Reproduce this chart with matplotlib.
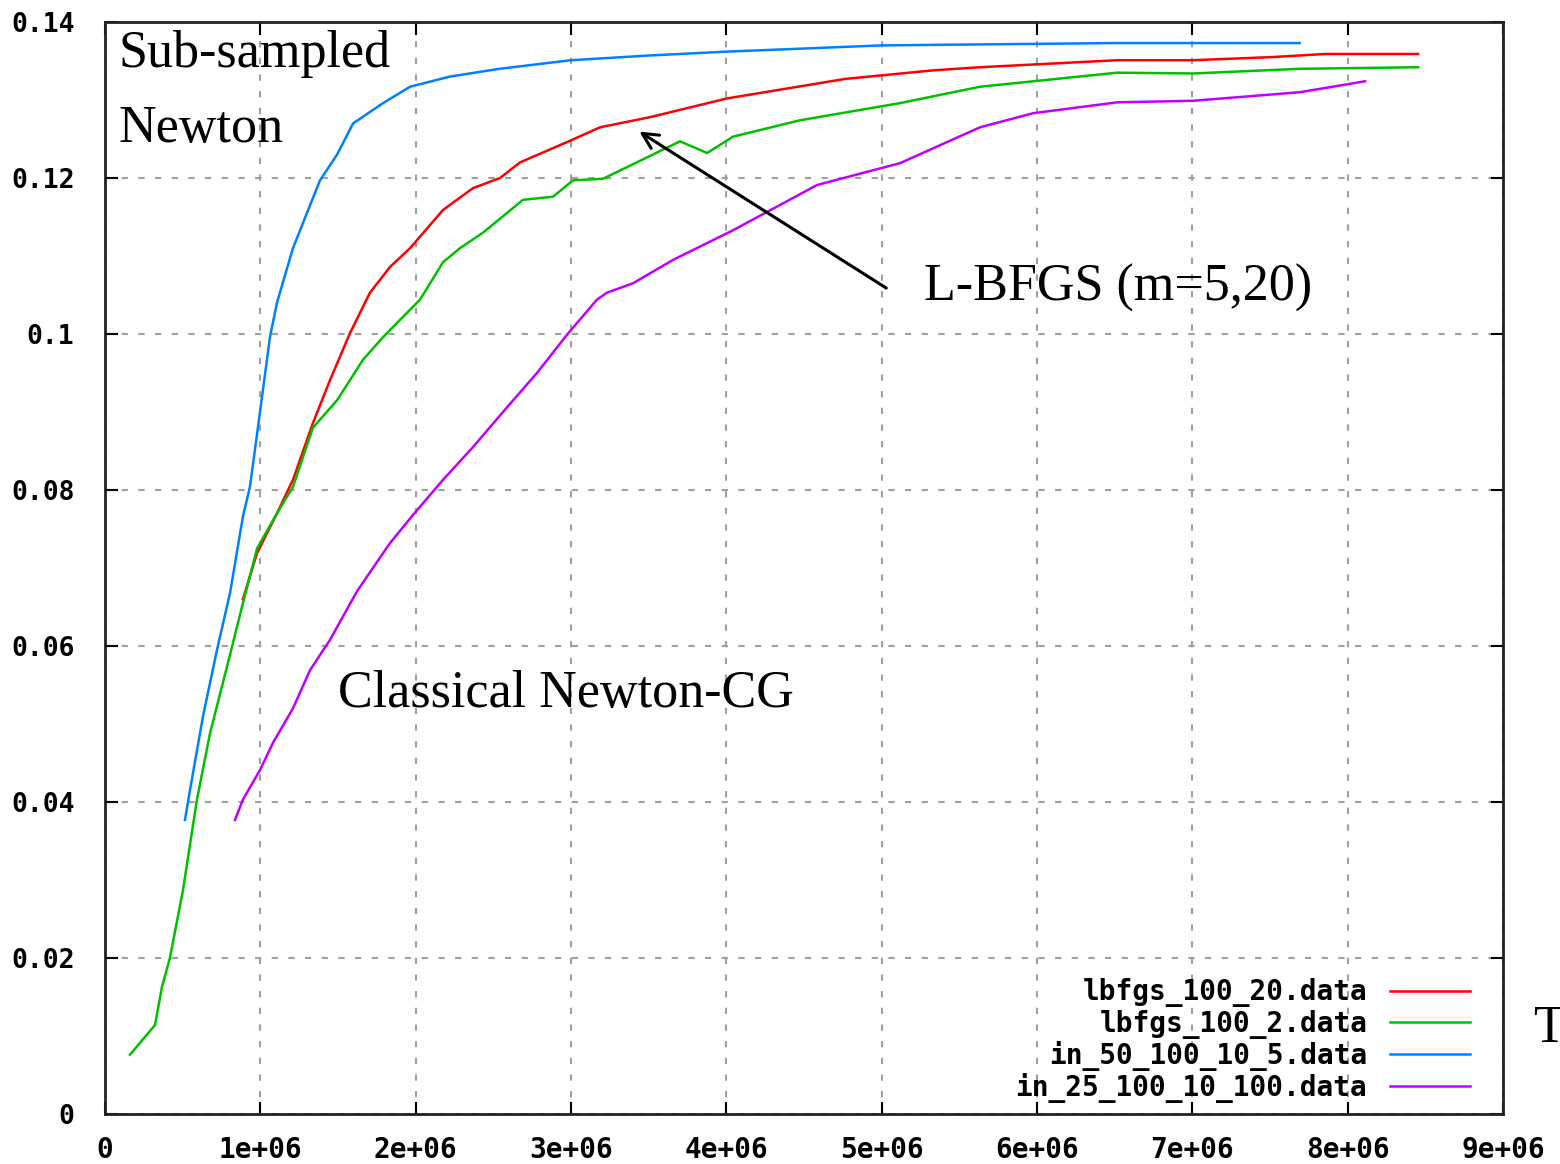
import matplotlib

matplotlib.use("Agg")
import matplotlib.pyplot as plt

# --- data (x: evaluations, y: objective) ---
lbfgs20_x = [0.888e6, 0.979e6, 1.107e6, 1.21e6, 1.339e6, 1.449e6, 1.577e6, 1.706e6,
             1.835e6, 1.964e6, 2.176e6, 2.369e6, 2.543e6, 2.672e6, 2.974e6, 3.187e6,
             3.509e6, 4.004e6, 4.764e6, 5.331e6, 5.633e6, 6.515e6, 7.005e6, 7.513e6,
             7.854e6, 8.453e6]
lbfgs20_y = [0.0660, 0.0719, 0.0770, 0.0813, 0.0886, 0.0941, 0.1001, 0.1053,
             0.1086, 0.1110, 0.1159, 0.1187, 0.1200, 0.1220, 0.1246, 0.1265,
             0.1278, 0.1302, 0.1327, 0.1338, 0.1342, 0.1351, 0.1351, 0.1355,
             0.1359, 0.1359]

lbfgs2_x = [0.161e6, 0.322e6, 0.367e6, 0.418e6, 0.502e6, 0.592e6, 0.676e6, 0.785e6,
            0.888e6, 0.979e6, 1.107e6, 1.21e6, 1.339e6, 1.494e6, 1.661e6, 1.79e6,
            1.899e6, 2.028e6, 2.176e6, 2.285e6, 2.434e6, 2.691e6, 2.884e6, 3.013e6,
            3.206e6, 3.702e6, 3.876e6, 4.043e6, 4.474e6, 5.118e6, 5.633e6, 6.515e6,
            7.005e6, 7.693e6, 8.453e6]
lbfgs2_y = [0.0076, 0.0114, 0.0163, 0.0200, 0.0287, 0.0403, 0.0488, 0.0573,
            0.0655, 0.0725, 0.0770, 0.0804, 0.0880, 0.0915, 0.0967, 0.0996,
            0.1018, 0.1044, 0.1092, 0.1110, 0.1130, 0.1172, 0.1176, 0.1197,
            0.1199, 0.1247, 0.1232, 0.1253, 0.1274, 0.1296, 0.1317, 0.1335,
            0.1334, 0.1340, 0.1342]

in50_x = [0.515e6, 0.547e6, 0.631e6, 0.721e6, 0.805e6, 0.888e6, 0.933e6, 0.998e6,
          1.062e6, 1.107e6, 1.21e6, 1.30e6, 1.384e6, 1.494e6, 1.597e6, 1.79e6,
          1.964e6, 2.22e6, 2.54e6, 3.0e6, 3.5e6, 4.0e6, 5.0e6, 6.5e6, 7.69e6]
in50_y = [0.0377, 0.0415, 0.0510, 0.0595, 0.0668, 0.0766, 0.0804, 0.0900,
          0.0996, 0.1040, 0.1110, 0.1155, 0.1197, 0.1230, 0.1270, 0.1296,
          0.1317, 0.1330, 0.1340, 0.1351, 0.1357, 0.1362, 0.1370, 0.1373, 0.1373]

in25_x = [0.837e6, 0.888e6, 0.998e6, 1.082e6, 1.21e6, 1.32e6, 1.449e6, 1.622e6,
          1.835e6, 1.983e6, 2.176e6, 2.369e6, 2.588e6, 2.781e6, 2.974e6, 3.167e6,
          3.232e6, 3.399e6, 3.657e6, 4.043e6, 4.584e6, 5.118e6, 5.633e6, 5.974e6,
          6.515e6, 7.005e6, 7.693e6, 8.112e6]
in25_y = [0.0377, 0.0403, 0.0441, 0.0476, 0.0520, 0.0569, 0.0608, 0.0670,
          0.0732, 0.0768, 0.0813, 0.0855, 0.0906, 0.0950, 0.0999, 0.1044,
          0.1053, 0.1065, 0.1095, 0.1133, 0.1191, 0.1219, 0.1265, 0.1283,
          0.1297, 0.1299, 0.1310, 0.1324]

series_labels = ["lbfgs_100_20.data", "lbfgs_100_2.data",
                 "in_50_100_10_5.data", "in_25_100_10_100.data"]
series_colors = ["#ff0000", "#00c000", "#0080ff", "#c000ff"]

x_ticks = [0, 1e6, 2e6, 3e6, 4e6, 5e6, 6e6, 7e6, 8e6, 9e6]
x_tick_labels = ["0", "1e+06", "2e+06", "3e+06", "4e+06", "5e+06",
                 "6e+06", "7e+06", "8e+06", "9e+06"]
y_ticks = [0, 0.02, 0.04, 0.06, 0.08, 0.1, 0.12, 0.14]
y_tick_labels = ["0", "0.02", "0.04", "0.06", "0.08", "0.1", "0.12", "0.14"]

# --- figure ---
fig = plt.figure(figsize=(15.6, 11.64), dpi=100)
ax = fig.add_axes([0.0673, 0.043, 0.8962, 0.9381])

xs = [lbfgs20_x, lbfgs2_x, in50_x, in25_x]
ys = [lbfgs20_y, lbfgs2_y, in50_y, in25_y]
for x, y, lab, c in zip(xs, ys, series_labels, series_colors):
    ax.plot(x, y, color=c, lw=1.8, label=lab)

ax.set_xlim(0, 9e6)
ax.set_ylim(0, 0.14)
ax.set_xticks(x_ticks)
ax.set_xticklabels(x_tick_labels)
ax.set_yticks(y_ticks)
ax.set_yticklabels(y_tick_labels)

# gnuplot-like bold bitmap look for the tick labels
mono = {"family": "DejaVu Sans Mono", "weight": "bold", "size": 20}
for t in ax.get_xticklabels():
    t.set_fontfamily(mono["family"])
    t.set_fontweight(mono["weight"])
    t.set_fontsize(mono["size"])
for t in ax.get_yticklabels():
    t.set_fontfamily(mono["family"])
    t.set_fontweight(mono["weight"])
    t.set_fontsize(19)

ax.tick_params(axis="both", direction="in", length=9, width=1.5,
               top=True, right=True, color="black")
ax.tick_params(axis="x", pad=16)
ax.tick_params(axis="y", pad=22)
for s in ax.spines.values():
    s.set_linewidth(2)
    s.set_color("#222222")

ax.grid(True, color="#a0a0a0", linestyle=(0, (3, 5)), linewidth=1.5)
ax.set_axisbelow(True)

# annotations
serif = "Liberation Serif"
fs = 37.5
ax.text(0.0095, 0.993, "Sub-sampled", transform=ax.transAxes, family=serif,
        fontsize=fs, va="top", ha="left")
ax.text(0.0095, 0.924, "Newton", transform=ax.transAxes, family=serif,
        fontsize=fs, va="top", ha="left")
ax.text(0.586, 0.756, "L-BFGS (m=5,20)", transform=ax.transAxes, family=serif,
        fontsize=fs, va="center", ha="left")
ax.text(0.167, 0.385, "Classical Newton-CG", transform=ax.transAxes, family=serif,
        fontsize=fs, va="center", ha="left")
fig.text(0.983, 0.116, "T", family=serif, fontsize=fs, va="center", ha="left")

ax.annotate("", xy=(0.3805, 0.901), xytext=(0.5605, 0.755),
            xycoords="axes fraction", textcoords="axes fraction",
            arrowprops=dict(arrowstyle="->", color="black", lw=2.2,
                            mutation_scale=28))

leg = ax.legend(loc="lower right", bbox_to_anchor=(0.9764, 0.010), frameon=False,
                markerfirst=False, handlelength=2.9, handletextpad=0.8,
                labelspacing=0.08, borderaxespad=0.0, borderpad=0.0,
                prop={"family": "DejaVu Sans Mono", "weight": "bold", "size": 20})

fig.savefig("out.png", dpi=100)
